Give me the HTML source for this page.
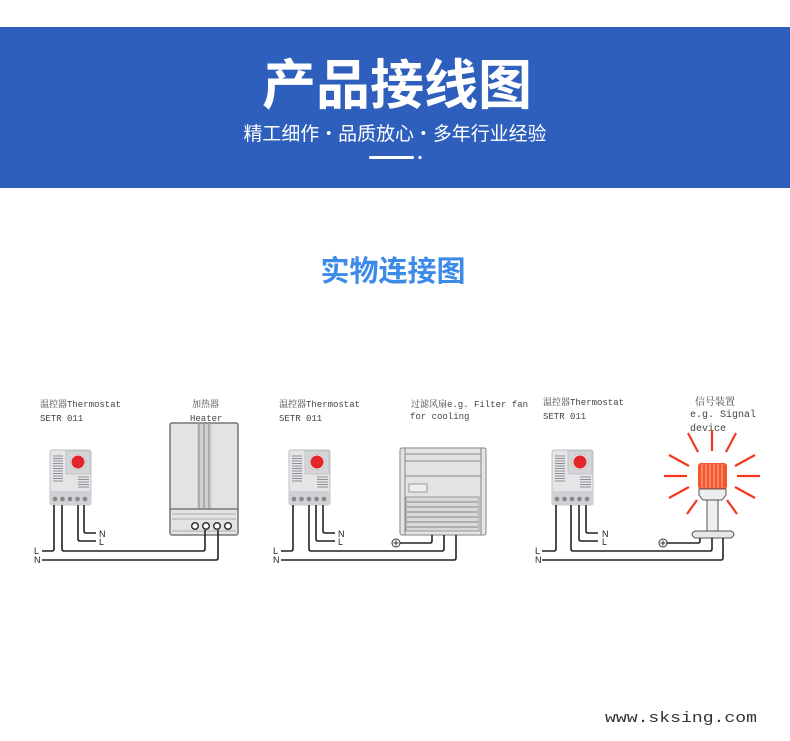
<!DOCTYPE html>
<html><head><meta charset="utf-8"><style>
html,body{margin:0;padding:0;background:#fff;}
body{width:790px;height:736px;position:relative;overflow:hidden;font-family:"Liberation Sans","Noto Sans CJK SC",sans-serif;}
</style></head><body>
<svg width="790" height="736" viewBox="0 0 790 736" xmlns="http://www.w3.org/2000/svg">
<defs>
<g id="th">
 <rect x="0" y="0" width="41" height="55" rx="2" fill="#e4e5e7" stroke="#bfc1c4" stroke-width="1"/>
 <rect x="16" y="1" width="24" height="23" fill="#d3d5d8" stroke="#b5b7ba" stroke-width="0.6"/>
 <circle cx="28" cy="12" r="8" fill="#e8e8ea" stroke="#aaa" stroke-width="0.5"/>
 <circle cx="28" cy="12" r="6.5" fill="#e3262c"/>
 <g stroke="#8c8f93" stroke-width="1">
  <line x1="3" y1="6" x2="13" y2="6"/><line x1="3" y1="8.5" x2="13" y2="8.5"/><line x1="3" y1="11" x2="13" y2="11"/><line x1="3" y1="13.5" x2="13" y2="13.5"/><line x1="3" y1="16" x2="13" y2="16"/><line x1="3" y1="18.5" x2="13" y2="18.5"/><line x1="3" y1="21" x2="13" y2="21"/><line x1="3" y1="23.5" x2="13" y2="23.5"/><line x1="3" y1="26" x2="13" y2="26"/><line x1="3" y1="28.5" x2="13" y2="28.5"/><line x1="3" y1="31" x2="13" y2="31"/>
  <line x1="28" y1="27" x2="39" y2="27"/><line x1="28" y1="29.5" x2="39" y2="29.5"/><line x1="28" y1="32" x2="39" y2="32"/><line x1="28" y1="34.5" x2="39" y2="34.5"/><line x1="28" y1="37" x2="39" y2="37"/>
 </g>
 <rect x="0" y="41" width="41" height="14" fill="#cfd1d4"/>
 <g fill="#888"><circle cx="5" cy="49" r="2.3"/><circle cx="12.5" cy="49" r="2.3"/><circle cx="20" cy="49" r="2.3"/><circle cx="27.5" cy="49" r="2.3"/><circle cx="35" cy="49" r="2.3"/></g>
</g>
<g id="gnd"><circle r="4" fill="#fff" stroke="#333" stroke-width="1"/><line x1="-2.5" y1="0" x2="2.5" y2="0" stroke="#333"/><line x1="0" y1="-2.5" x2="0" y2="2.5" stroke="#333"/></g>
</defs>

<rect x="0" y="27" width="790" height="161" fill="#2e5fbc"/>
<text x="397" y="104" text-anchor="middle" fill="#fff" font-size="54" font-weight="bold" font-family="'Noto Sans CJK SC',sans-serif">产品接线图</text>
<text x="395" y="140" text-anchor="middle" fill="#fff" font-size="19" font-family="'Noto Sans CJK SC',sans-serif" textLength="303" lengthAdjust="spacingAndGlyphs">精工细作·品质放心·多年行业经验</text>
<rect x="369" y="156" width="45" height="3" rx="1.5" fill="#fff"/>
<circle cx="420" cy="157.5" r="1.6" fill="#fff"/>

<text x="393" y="281" text-anchor="middle" fill="#3d8be8" font-size="29" font-weight="bold" font-family="'Noto Sans CJK SC',sans-serif">实物连接图</text>

<g font-family="'Liberation Mono','Noto Serif CJK SC',monospace" font-size="9" fill="#444">
<text x="40" y="407">温控器Thermostat</text><text x="40" y="421">SETR 011</text>
<text x="192" y="407">加热器</text><text x="190" y="421">Heater</text>
<text x="279" y="407">温控器Thermostat</text><text x="279" y="421">SETR 011</text>
<text x="411" y="407">过滤风扇e.g. Filter fan</text><text x="410" y="419">for cooling</text>
<text x="543" y="405">温控器Thermostat</text><text x="543" y="419">SETR 011</text>
<text x="695" y="405" font-size="10">信号装置</text><text x="690" y="417" font-size="10">e.g. Signal</text><text x="690" y="431" font-size="10">device</text>
</g>

<!-- panel 1 -->
<use href="#th" x="50" y="450"/>
<rect x="170" y="423" width="68" height="112" rx="2" fill="#e2e3e5" stroke="#777" stroke-width="1.5"/>
<rect x="197" y="424" width="15" height="85" fill="#d0d1d3"/>
<g stroke="#888" stroke-width="1"><line x1="199" y1="424" x2="199" y2="509"/><line x1="204" y1="424" x2="204" y2="509"/><line x1="209" y1="424" x2="209" y2="509"/></g>
<line x1="170" y1="509" x2="238" y2="509" stroke="#777" stroke-width="1.5"/>
<g stroke="#999" stroke-width="0.8"><line x1="172" y1="514" x2="236" y2="514"/><line x1="172" y1="519" x2="236" y2="519"/><line x1="172" y1="531" x2="236" y2="531"/></g>
<g fill="#fff" stroke="#333" stroke-width="1.5"><circle cx="195" cy="526" r="3.3"/><circle cx="206" cy="526" r="3.3"/><circle cx="217" cy="526" r="3.3"/><circle cx="228" cy="526" r="3.3"/></g>

<g fill="none" stroke="#222" stroke-width="1.6">
<path d="M54 505 V549 Q54 551 52 551 H42"/>
<path d="M62 505 V549 Q62 551 64 551 H203 Q205 551 205 549 V530"/>
<path d="M42 560 H216 Q218 560 218 558 V530"/>
<path d="M78 505 V539 Q78 541 80 541 H96"/>
<path d="M84 505 V531 Q84 533 86 533 H96"/>
</g>
<g font-family="'Liberation Sans',sans-serif" font-size="9" fill="#222">
<text x="34" y="554">L</text><text x="34" y="563">N</text><text x="99" y="537">N</text><text x="99" y="545">L</text>
</g>

<!-- panel 2 -->
<use href="#th" x="289" y="450"/>
<rect x="400" y="448" width="86" height="87" rx="2" fill="#e3e4e6" stroke="#999" stroke-width="1.2"/>
<g stroke="#888" stroke-width="1"><line x1="405" y1="448" x2="405" y2="535"/><line x1="481" y1="448" x2="481" y2="535"/><line x1="405" y1="454" x2="481" y2="454"/><line x1="405" y1="461" x2="481" y2="461"/><line x1="405" y1="476" x2="481" y2="476"/></g>
<rect x="409" y="484" width="18" height="8" fill="#eee" stroke="#888" stroke-width="0.8"/>
<rect x="406" y="497" width="73" height="34" fill="#d8d9db" stroke="#888" stroke-width="0.8"/>
<g stroke="#888" stroke-width="1"><line x1="407" y1="502" x2="478" y2="502"/><line x1="407" y1="507" x2="478" y2="507"/><line x1="407" y1="512" x2="478" y2="512"/><line x1="407" y1="517" x2="478" y2="517"/><line x1="407" y1="522" x2="478" y2="522"/><line x1="407" y1="527" x2="478" y2="527"/></g>
<g fill="none" stroke="#222" stroke-width="1.6">
<path d="M293 505 V549 Q293 551 291 551 H281"/>
<path d="M309 505 V549 Q309 551 311 551 H442 Q444 551 444 549 V535"/>
<path d="M281 560 H454 Q456 560 456 558 V535"/>
<path d="M316 505 V539 Q316 541 318 541 H335"/>
<path d="M323 505 V531 Q323 533 325 533 H335"/>
<path d="M400 543 H430 Q432 543 432 541 V535"/>
</g>
<use href="#gnd" x="396" y="543"/>
<g font-family="'Liberation Sans',sans-serif" font-size="9" fill="#222">
<text x="273" y="554">L</text><text x="273" y="563">N</text><text x="338" y="537">N</text><text x="338" y="545">L</text>
</g>

<!-- panel 3 -->
<use href="#th" x="552" y="450"/>
<g stroke="#f03a20" stroke-width="2.2">
<line x1="712" y1="451" x2="712" y2="430"/><line x1="726" y1="452" x2="736" y2="433"/><line x1="698" y1="452" x2="688" y2="433"/>
<line x1="735" y1="466" x2="755" y2="455"/><line x1="689" y1="466" x2="669" y2="455"/>
<line x1="737" y1="476" x2="760" y2="476"/><line x1="687" y1="476" x2="664" y2="476"/>
<line x1="735" y1="487" x2="755" y2="498"/><line x1="689" y1="487" x2="669" y2="498"/>
<line x1="727" y1="500" x2="737" y2="514"/><line x1="697" y1="500" x2="687" y2="514"/>
</g>
<rect x="698" y="463" width="29" height="26" rx="3" fill="#f4572e"/>
<g stroke="#ffb39a" stroke-width="1"><line x1="702" y1="464" x2="702" y2="488"/><line x1="706" y1="464" x2="706" y2="488"/><line x1="710" y1="464" x2="710" y2="488"/><line x1="714" y1="464" x2="714" y2="488"/><line x1="718" y1="464" x2="718" y2="488"/><line x1="722" y1="464" x2="722" y2="488"/></g>
<path d="M699 489 H726 V495 L722 500 H703 L699 495 Z" fill="#eee" stroke="#555" stroke-width="1"/>
<rect x="707" y="500" width="11" height="31" fill="#eee" stroke="#555" stroke-width="1"/>
<path d="M695 531 H731 Q737 534 731 538 H695 Q689 534 695 531 Z" fill="#e6e6e6" stroke="#555" stroke-width="1"/>
<g fill="none" stroke="#222" stroke-width="1.6">
<path d="M556 505 V549 Q556 551 554 551 H542"/>
<path d="M571 505 V549 Q571 551 573 551 H710 Q712 551 712 549 V538"/>
<path d="M542 560 H721 Q723 560 723 558 V538"/>
<path d="M579 505 V539 Q579 541 581 541 H598"/>
<path d="M586 505 V531 Q586 533 588 533 H598"/>
<path d="M667 543 H698 Q700 543 700 541 V538"/>
</g>
<use href="#gnd" x="663" y="543"/>
<g font-family="'Liberation Sans',sans-serif" font-size="9" fill="#222">
<text x="535" y="554">L</text><text x="535" y="563">N</text><text x="602" y="537">N</text><text x="602" y="545">L</text>
</g>

<text x="605" y="722" font-family="'Liberation Mono',monospace" font-size="15" fill="#333" textLength="152" lengthAdjust="spacingAndGlyphs">www.sksing.com</text>
</svg>
</body></html>
